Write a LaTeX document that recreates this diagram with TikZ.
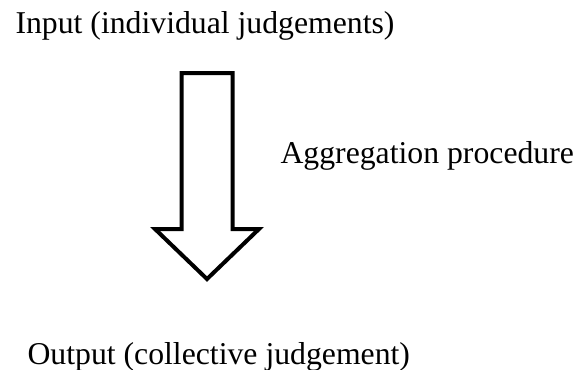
\documentclass[tikz,border=0pt]{standalone}
\usepackage{fontspec}
\setmainfont{Liberation Serif}
\begin{document}
\begin{tikzpicture}[x=0.375pt,y=-0.375pt, line join=miter, font=\fontsize{11.9pt}{14pt}\selectfont]
			\tikzset{label text/.style={inner sep=0pt, anchor=base west}}
			\tikzset{block arrow/.style={draw=black, line width=1.5pt, fill=white}}
			\def \cx{207}\def \sw{25.5}\def \hw{52}\def \ytop{73}\def \yhead{229}\def \ytip{279}
			\useasboundingbox (0,0) rectangle (576,369);
			\node[label text] (input) at (15,33) {Input (individual judgements)};
			\node[label text] (agg) at (280,163) {Aggregation procedure};
			\node[label text] (output) at (27,364) {Output (collective judgement)};
			\draw[block arrow] 
			(\cx-\sw,\ytop) -- (\cx+\sw,\ytop) -- (\cx+\sw,\yhead) -- (\cx+\hw,\yhead)
			-- (\cx,\ytip) -- (\cx-\hw,\yhead) -- (\cx-\sw,\yhead) -- cycle;
	\end{tikzpicture}
\end{document}
